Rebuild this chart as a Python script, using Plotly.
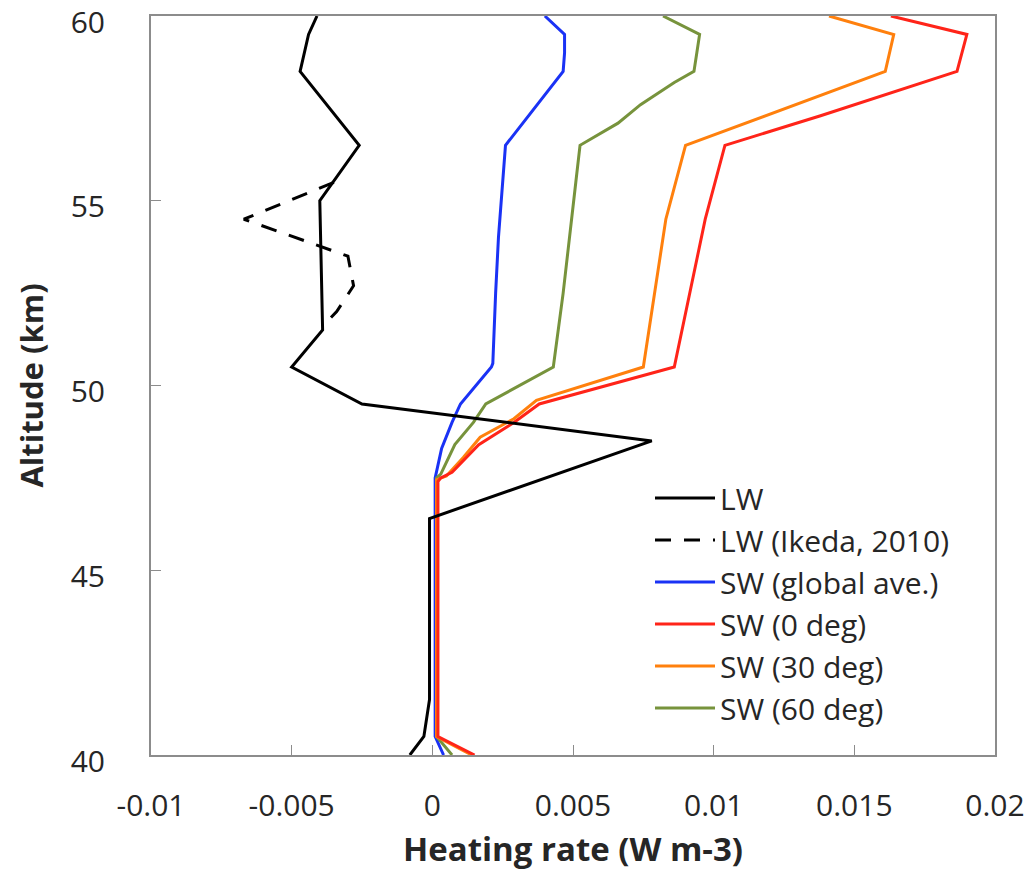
import plotly.graph_objects as go

# Longwave heating rate (solid) and reference profile (dashed)
lw_alt = [60.0, 59.5, 58.5, 56.5, 55.0, 51.5, 50.5, 49.5, 48.5, 46.5, 46.4, 41.5, 41.0, 40.5, 40.0]
lw_val = [-0.0041, -0.0044, -0.0047, -0.0026, -0.0040, -0.0039, -0.0050, -0.0025, 0.0078,
          0.0002, -0.0001, -0.0001, -0.0002, -0.0003, -0.0008]

ikeda_alt = [55.5, 54.5, 53.5, 52.7, 52.0, 51.6]
ikeda_val = [-0.0035, -0.0067, -0.0030, -0.0028, -0.0034, -0.0039]

# Shortwave heating rates
sw_glob_alt = [60.0, 59.5, 59.0, 58.5, 56.5, 55.0, 54.0, 52.5, 50.6, 50.5, 49.5, 49.0, 48.3, 47.5, 40.5, 40.0]
sw_glob_val = [0.0040, 0.0047, 0.0047, 0.00465, 0.0026, 0.00245, 0.00235, 0.00225, 0.00215, 0.0021,
               0.0010, 0.0007, 0.00033, 0.0001, 0.0001, 0.0004]

sw0_alt = [60.0, 59.5, 58.5, 57.3, 56.5, 54.5, 50.5, 49.5, 49.0, 48.4, 47.65, 47.5, 47.4, 40.5, 40.0]
sw0_val = [0.0163, 0.0190, 0.01865, 0.0138, 0.0104, 0.0097, 0.0086, 0.0038, 0.0029, 0.00165,
           0.0007, 0.0003, 0.0002, 0.0002, 0.0015]

sw30_alt = [60.0, 59.5, 58.5, 56.5, 54.5, 50.5, 49.6, 49.1, 48.6, 48.05, 47.55, 47.45, 40.5, 40.0]
sw30_val = [0.0141, 0.0164, 0.0161, 0.0090, 0.0083, 0.0075, 0.0037, 0.0029, 0.0017, 0.0011,
            0.0005, 0.00015, 0.00015, 0.0014]

sw60_alt = [60.0, 59.5, 59.0, 58.5, 58.2, 57.6, 57.1, 56.5, 55.5, 52.5, 50.5, 49.5, 49.0, 48.4,
            47.6, 47.5, 40.5, 40.0]
sw60_val = [0.0082, 0.0095, 0.0094, 0.0093, 0.0086, 0.0074, 0.0066, 0.00525, 0.0051, 0.00465,
            0.0043, 0.0019, 0.00146, 0.00080, 0.00030, 0.00015, 0.00015, 0.0007]

x_ticks = [-0.01, -0.005, 0, 0.005, 0.01, 0.015, 0.02]
x_tick_text = ["-0.01", "-0.005", "0", "0.005", "0.01", "0.015", "0.02"]
y_ticks = [40, 45, 50, 55, 60]

FONT = "'Open Sans', Lato, sans-serif"
TEXT = "#262626"
AXIS_GREY = "#8c8c8c"

series = [
    ("LW", lw_val, lw_alt, "#000000", "solid"),
    ("LW (Ikeda, 2010)", ikeda_val, ikeda_alt, "#000000", "16px,13px"),
    ("SW (global ave.)", sw_glob_val, sw_glob_alt, "#1a32f5", "solid"),
    ("SW (0 deg)", sw0_val, sw0_alt, "#ff2419", "solid"),
    ("SW (30 deg)", sw30_val, sw30_alt, "#ff800d", "solid"),
    ("SW (60 deg)", sw60_val, sw60_alt, "#77933c", "solid"),
]

fig = go.Figure()
# Colored profiles first so the longwave curves sit on top
draw_order = [2, 5, 4, 3, 1, 0]
for i in draw_order:
    name, xs, ys, color, dash = series[i]
    fig.add_trace(go.Scatter(
        x=xs, y=ys, mode="lines", name=name,
        line=dict(color=color, width=3, dash=dash),
        legendrank=i + 1,
    ))

PLOT_L, PLOT_R, PLOT_T, PLOT_B = 151, 995, 16, 755
W, H = 1032, 871

fig.update_layout(
    width=W, height=H,
    margin=dict(l=PLOT_L, r=W - PLOT_R, t=PLOT_T, b=H - PLOT_B),
    paper_bgcolor="white", plot_bgcolor="white",
    font=dict(family=FONT, size=22, color=TEXT),
    showlegend=True,
    legend=dict(
        x=(650 - PLOT_L) / (PLOT_R - PLOT_L), y=1 - (472 - PLOT_T) / (PLOT_B - PLOT_T),
        xanchor="left", yanchor="top",
        bgcolor="rgba(0,0,0,0)", borderwidth=0,
        itemwidth=60,
        font=dict(family=FONT, size=30, color=TEXT),
    ),
    xaxis=dict(
        range=[-0.01, 0.02], tickvals=x_ticks, ticktext=x_tick_text,
        ticks="inside", ticklen=10, tickwidth=1, tickcolor=AXIS_GREY,
        showline=True, linecolor=AXIS_GREY, linewidth=2, mirror=True,
        showgrid=False, zeroline=False, automargin=False,
        ticklabelstandoff=23, ticklabeloverflow="allow",
        tickfont=dict(family=FONT, size=30, color=TEXT),
        title=dict(text="<b>Heating rate (W m-3)</b>", standoff=40,
                   font=dict(family=FONT, size=33, color=TEXT)),
    ),
    yaxis=dict(
        range=[40, 60], tickvals=y_ticks,
        ticks="inside", ticklen=10, tickwidth=1, tickcolor=AXIS_GREY,
        showline=True, linecolor=AXIS_GREY, linewidth=2, mirror=True,
        showgrid=False, zeroline=False, automargin=False,
        ticklabelstandoff=38, ticklabeloverflow="allow", ticklabelshift=6,
        tickfont=dict(family=FONT, size=30, color=TEXT),
        title=dict(text="<b>Altitude (km)</b>", standoff=18,
                   font=dict(family=FONT, size=31, color=TEXT)),
    ),
)

fig.write_html("out.html")
